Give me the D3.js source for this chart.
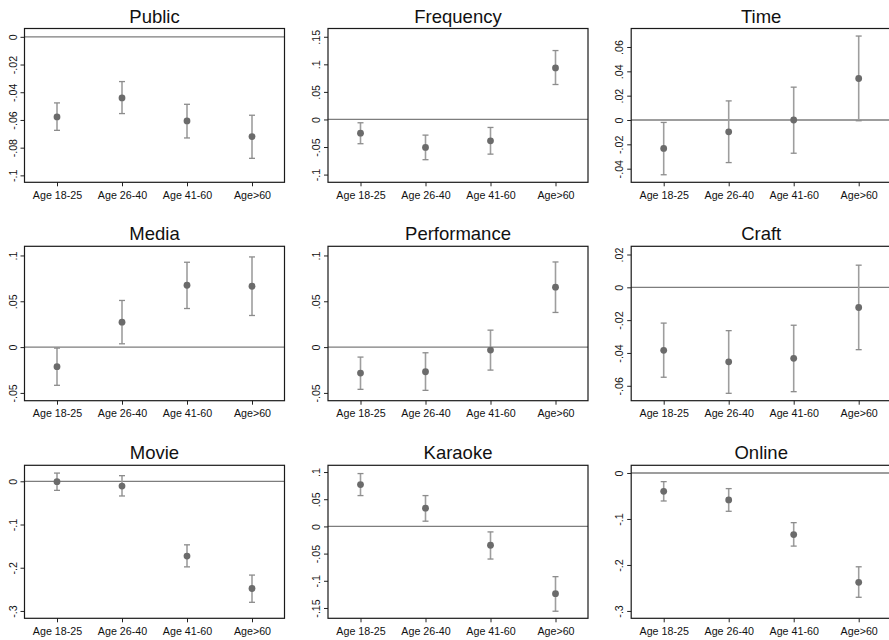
<!DOCTYPE html>
<html>
<head>
<meta charset="utf-8">
<script src="https://cdn.jsdelivr.net/npm/d3@7"></script>
<style>
  html, body { margin: 0; padding: 0; background: #fff; }
  svg { display: block; }
  text { font-family: "Liberation Sans", Arial, Helvetica, sans-serif; }
</style>
</head>
<body>
<script>
// ---- data ----
const categories = ["Age 18-25", "Age 26-40", "Age 41-60", "Age>60"];
const panelTitles = ["Public", "Frequency", "Time", "Media", "Performance", "Craft", "Movie", "Karaoke", "Online"];

const estimates = [
  [-0.0578, -0.0441, -0.0607, -0.0720],
  [-0.0248, -0.0508, -0.0387, 0.0935],
  [-0.0234, -0.0097, 0.0000, 0.0341],
  [-0.0214, 0.0272, 0.0675, 0.0664],
  [-0.0283, -0.0269, -0.0033, 0.0654],
  [-0.0384, -0.0454, -0.0433, -0.0123],
  [-0.0008, -0.0110, -0.1730, -0.2480],
  [0.0770, 0.0335, -0.0346, -0.1238],
  [-0.0399, -0.0587, -0.1340, -0.2377]
];
const lowerCI = [
  [-0.0675, -0.0554, -0.0730, -0.0877],
  [-0.0440, -0.0730, -0.0629, 0.0634],
  [-0.0450, -0.0350, -0.0273, -0.0006],
  [-0.0417, 0.0036, 0.0421, 0.0345],
  [-0.0461, -0.0472, -0.0251, 0.0378],
  [-0.0548, -0.0646, -0.0636, -0.0380],
  [-0.0210, -0.0340, -0.1980, -0.2800],
  [0.0567, 0.0096, -0.0600, -0.1560],
  [-0.0609, -0.0833, -0.1590, -0.2703]
];
const upperCI = [
  [-0.0477, -0.0323, -0.0487, -0.0566],
  [-0.0060, -0.0284, -0.0145, 0.1250],
  [-0.0020, 0.0157, 0.0270, 0.0690],
  [-0.0011, 0.0509, 0.0926, 0.0984],
  [-0.0109, -0.0062, 0.0185, 0.0929],
  [-0.0218, -0.0264, -0.0231, 0.0135],
  [0.0190, 0.0130, -0.1470, -0.2170],
  [0.0972, 0.0567, -0.0101, -0.0924],
  [-0.0188, -0.0340, -0.1080, -0.2040]
];
const yTicks = [
  [0, -0.02, -0.04, -0.06, -0.08, -0.1],
  [0.15, 0.1, 0.05, 0, -0.05, -0.1],
  [0.06, 0.04, 0.02, 0, -0.02, -0.04],
  [0.1, 0.05, 0, -0.05],
  [0.1, 0.05, 0, -0.05],
  [0.02, 0, -0.02, -0.04, -0.06],
  [0, -0.1, -0.2, -0.3],
  [0.1, 0.05, 0, -0.05, -0.1, -0.15],
  [0, -0.1, -0.2, -0.3]
];
const yDomains = [
  [-0.105, 0.006],
  [-0.114, 0.165],
  [-0.0512, 0.0752],
  [-0.0585, 0.110],
  [-0.0585, 0.110],
  [-0.0691, 0.025],
  [-0.317, 0.037],
  [-0.169, 0.1124],
  [-0.316, 0.0167]
];

// ---- layout ----
const W = 889, H = 640;
const colLeft = [24.5, 328, 631.2];
const rowTop = [28.5, 246.3, 465.3];
const plotW = 260;
const plotH = [153.8, 154.4, 153];

const svg = d3.select("body").append("svg").attr("width", W).attr("height", H);

const fmt = v => {
  if (v === 0) return "0";
  const s = String(+v.toFixed(4));
  return s.replace(/^(-?)0\./, "$1.");
};

panelTitles.forEach((title, i) => {
  const r = Math.floor(i / 3), c = i % 3;
  const x0 = colLeft[c], y0 = rowTop[r], h = plotH[r];
  const g = svg.append("g").attr("transform", `translate(${x0},${y0})`);

  const x = d3.scalePoint().domain(categories).range([0, plotW]).padding(0.5);
  const y = d3.scaleLinear().domain(yDomains[i]).range([h, 0]);

  // zero line
  g.append("line")
    .attr("x1", 0).attr("x2", plotW)
    .attr("y1", y(0)).attr("y2", y(0))
    .attr("stroke", "#7d7d7d").attr("stroke-width", 1.3);

  const rows = categories.map((cat, k) => ({cat, est: estimates[i][k], lo: lowerCI[i][k], hi: upperCI[i][k]}));

  // error bars
  const eb = g.append("g");
  eb.selectAll("line.v").data(rows).join("line")
    .attr("x1", d => x(d.cat)).attr("x2", d => x(d.cat))
    .attr("y1", d => y(d.lo)).attr("y2", d => y(d.hi))
    .attr("stroke", "#9e9e9e").attr("stroke-width", 1.6);
  eb.selectAll("line.t").data(rows).join("line")
    .attr("x1", d => x(d.cat) - 3).attr("x2", d => x(d.cat) + 3)
    .attr("y1", d => y(d.hi)).attr("y2", d => y(d.hi))
    .attr("stroke", "#8c8c8c").attr("stroke-width", 1.3);
  eb.selectAll("line.b").data(rows).join("line")
    .attr("x1", d => x(d.cat) - 3).attr("x2", d => x(d.cat) + 3)
    .attr("y1", d => y(d.lo)).attr("y2", d => y(d.lo))
    .attr("stroke", "#8c8c8c").attr("stroke-width", 1.3);

  // points
  g.selectAll("circle").data(rows).join("circle")
    .attr("cx", d => x(d.cat)).attr("cy", d => y(d.est))
    .attr("r", 3.4).attr("fill", "#6b6b6b");

  // axes
  const xAxis = d3.axisBottom(x).tickSize(4).tickPadding(4);
  const xg = g.append("g").attr("transform", `translate(0,${h})`).call(xAxis);
  xg.select(".domain").remove();
  xg.selectAll("line").attr("stroke", "#222");
  xg.selectAll("text").attr("font-size", "10.7px").attr("fill", "#111").attr("dy", "0.8em");

  const yAxis = d3.axisLeft(y).tickValues(yTicks[i]).tickFormat(fmt).tickSize(4);
  const yg = g.append("g").call(yAxis);
  yg.select(".domain").remove();
  yg.selectAll("line").attr("stroke", "#222");
  yg.selectAll("text")
    .attr("x", null).attr("dy", null)
    .attr("font-size", "10.7px").attr("fill", "#111")
    .attr("text-anchor", "middle")
    .attr("transform", "translate(-8,0) rotate(-90)");

  // frame
  g.append("rect").attr("x", 0).attr("y", 0).attr("width", plotW).attr("height", h)
    .attr("fill", "none").attr("stroke", "#1a1a1a").attr("stroke-width", 1.2);

  // title
  g.append("text")
    .attr("x", plotW / 2).attr("y", -6)
    .attr("text-anchor", "middle")
    .attr("font-size", "18.5px").attr("fill", "#111")
    .text(title);
});
</script>
</body>
</html>
